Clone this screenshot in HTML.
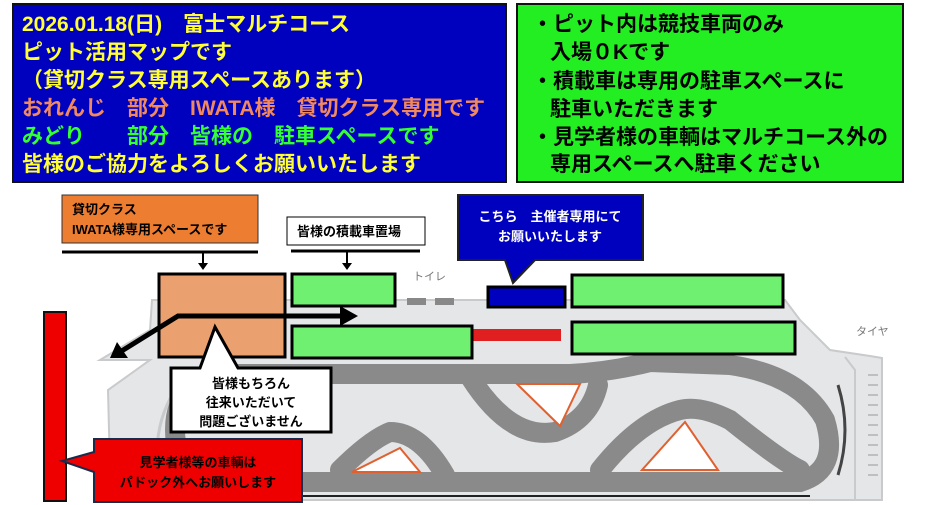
<!DOCTYPE html>
<html><head><meta charset="utf-8"><style>
html,body{margin:0;padding:0;background:#fff;}
svg{display:block;font-family:"Liberation Sans","Noto Sans CJK JP",sans-serif;font-weight:bold;}
</style></head><body>
<svg width="950" height="505" viewBox="0 0 950 505" xmlns="http://www.w3.org/2000/svg">
<rect width="950" height="505" fill="#fff"/>
<rect x="13" y="4" width="493" height="178" fill="#0000bf" stroke="#111" stroke-width="2"/>
<g fill="#ffff33" font-size="21">
<text x="22" y="31">2026.01.18(日)　富士マルチコース</text>
<text x="22" y="59">ピット活用マップです</text>
<text x="22" y="87">（貸切クラス専用スペースあります）</text>
<text x="22" y="115" fill="#f08860">おれんじ　部分　IWATA様　貸切クラス専用です</text>
<text x="22" y="143" fill="#33ff33">みどり　　部分　皆様の　駐車スペースです</text>
<text x="22" y="171">皆様のご協力をよろしくお願いいたします</text>
</g>
<rect x="517" y="4" width="386" height="178" fill="#22ee22" stroke="#111" stroke-width="2"/>
<g fill="#000" font-size="21">
<text x="532" y="31">・ピット内は競技車両のみ</text>
<text x="550" y="59">入場０Kです</text>
<text x="532" y="88">・積載車は専用の駐車スペースに</text>
<text x="550" y="116">駐車いただきます</text>
<text x="532" y="144">・見学者様の車輌はマルチコース外の</text>
<text x="550" y="171">専用スペースへ駐車ください</text>
</g>
<!-- map base -->
<path d="M100 360 L150 330 L152 300 L560 300 L785 300 L800 320 L830 350 L870 356 L882 358 L882 500 L150 500 L110 470 L108 390 L150 360 Z" fill="#e4e6e8" stroke="#c8cacc" stroke-width="2"/>
<path d="M160 480 Q150 430 175 390 Q200 370 240 368" fill="none" stroke="#c8cacc" stroke-width="3"/>
<g fill="none" stroke="#8a8a8a" stroke-width="20" stroke-linejoin="round" stroke-linecap="round">
<path d="M240 374 L570 374 Q610 372 650 362 L730 365 Q800 375 825 420 Q840 470 800 482 L240 482 Q175 482 175 430 Q175 374 240 374"/>
<path d="M470 377 Q510 440 555 432 Q590 420 598 385"/>
<path d="M600 470 Q640 420 680 410 Q700 405 730 420 Q780 460 800 470"/>
<path d="M340 470 Q370 440 390 432 Q420 432 445 475"/>
</g>
<g fill="#fff" stroke="#e06030" stroke-width="2">
<path d="M517 384 L580 384 L560 426 Z"/>
<path d="M642 470 L718 470 L685 422 Z"/>
<path d="M352 472 L420 472 L400 448 Z"/>
</g>
<line x1="150" y1="496" x2="810" y2="496" stroke="#222" stroke-width="2"/>
<path d="M845 357 L855 370 L855 500" fill="none" stroke="#c8cacc" stroke-width="2"/>
<path d="M838 385 Q852 430 838 475" fill="none" stroke="#444" stroke-width="3"/>
<g stroke="#999" stroke-width="1"><line x1="868" y1="375" x2="878" y2="375"/><line x1="868" y1="385" x2="878" y2="385"/><line x1="868" y1="395" x2="878" y2="395"/><line x1="868" y1="405" x2="878" y2="405"/><line x1="868" y1="415" x2="878" y2="415"/><line x1="868" y1="425" x2="878" y2="425"/><line x1="868" y1="435" x2="878" y2="435"/><line x1="868" y1="445" x2="878" y2="445"/><line x1="868" y1="455" x2="878" y2="455"/><line x1="868" y1="465" x2="878" y2="465"/><line x1="868" y1="475" x2="878" y2="475"/></g>
<g fill="#777" font-size="11" font-weight="normal">
<text x="413" y="280">トイレ</text>
<text x="856" y="335">タイヤ</text>
<text x="620" y="333">パドック</text>
<text x="327" y="336">ネットフェンス</text>
</g>
<rect x="407" y="298" width="19" height="7" fill="#888"/>
<rect x="435" y="298" width="19" height="7" fill="#888"/>
<rect x="471" y="329" width="90" height="12" fill="#e02020"/>
<rect x="159" y="274" width="126" height="83" fill="#eba070" stroke="#000" stroke-width="3"/>
<g fill="#70f070" stroke="#000" stroke-width="3">
<rect x="292" y="274" width="103" height="32"/>
<rect x="292" y="326" width="180" height="32"/>
<rect x="572" y="275" width="211" height="32"/>
<rect x="572" y="322" width="223" height="32"/>
</g>
<rect x="488" y="287" width="77" height="20" fill="#0000bf" stroke="#000" stroke-width="3"/>
<g stroke="#000" stroke-width="5" fill="none"><path d="M345 316 L178 316 L120 352"/></g>
<path d="M358 316 L340 306 L340 326 Z" fill="#000"/>
<path d="M110 358 L117 342 L128 358 Z" fill="#000"/>
<rect x="62" y="195" width="196" height="48" fill="#ed7d31" stroke="#333" stroke-width="1"/>
<text x="72" y="214" font-size="13">貸切クラス</text>
<text x="72" y="234" font-size="13">IWATA様専用スペースです</text>
<line x1="62" y1="252" x2="258" y2="252" stroke="#000" stroke-width="3"/>
<line x1="203" y1="252" x2="203" y2="264" stroke="#000" stroke-width="2"/><path d="M198 263 L208 263 L203 270 Z"/>
<rect x="287" y="217" width="138" height="28" fill="#fff" stroke="#000" stroke-width="1"/>
<text x="297" y="236" font-size="13">皆様の積載車置場</text>
<line x1="291" y1="251" x2="420" y2="251" stroke="#000" stroke-width="3"/>
<line x1="347" y1="251" x2="347" y2="264" stroke="#000" stroke-width="2"/><path d="M342 263 L352 263 L347 270 Z"/>
<path d="M458 195 L643 195 L643 260 L535 260 L513 283 L505 260 L458 260 Z" fill="#0000bf" stroke="#222" stroke-width="2"/>
<text x="550" y="221" font-size="13" fill="#fff" text-anchor="middle">こちら　主催者専用にて</text>
<text x="550" y="241" font-size="13" fill="#fff" text-anchor="middle">お願いいたします</text>
<path d="M171 368 L200 368 L215 327 L238 368 L331 368 L331 432 L171 432 Z" fill="#fff" stroke="#000" stroke-width="3"/>
<g font-size="13" text-anchor="middle" fill="#000">
<text x="251" y="388">皆様もちろん</text>
<text x="251" y="407">往来いただいて</text>
<text x="251" y="426">問題ございません</text>
</g>
<rect x="44" y="312" width="22" height="189" fill="#ee0000" stroke="#111" stroke-width="2"/>
<path d="M94 439 L302 439 L302 502 L94 502 L94 472 L62 461 L94 452 Z" fill="#ee0000" stroke="#1a2a4a" stroke-width="2"/>
<text x="198" y="467" font-size="13" text-anchor="middle">見学者様等の車輌は</text>
<text x="198" y="487" font-size="13" text-anchor="middle">パドック外へお願いします</text>
</svg>
</body></html>
